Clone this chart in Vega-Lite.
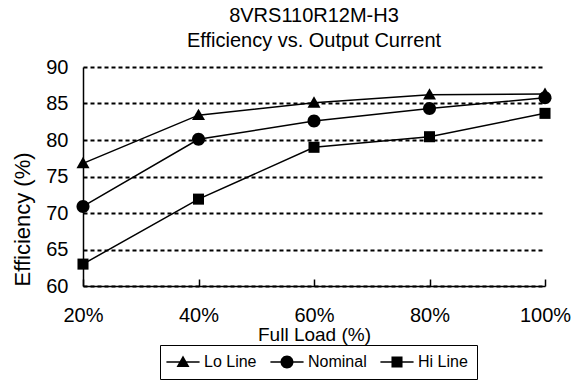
{
  "$schema": "https://vega.github.io/schema/vega-lite/v6.json",
  "width": 462,
  "height": 219,
  "autosize": "none",
  "padding": {"left": 83, "top": 67, "right": 37, "bottom": 97},
  "background": "white",
  "config": {"view": {"stroke": null}, "font": "Liberation Sans"},
  "title": {
    "text": ["8VRS110R12M-H3", "Efficiency vs. Output Current"],
    "font": "Liberation Sans",
    "fontSize": 20,
    "fontWeight": "normal",
    "color": "black",
    "anchor": "middle",
    "offset": 6,
    "lineHeight": 25
  },
  "data": {
    "values": [
      {"load": 0.2, "series": "Lo Line", "eff": 76.8},
      {"load": 0.4, "series": "Lo Line", "eff": 83.4},
      {"load": 0.6, "series": "Lo Line", "eff": 85.1},
      {"load": 0.8, "series": "Lo Line", "eff": 86.2},
      {"load": 1.0, "series": "Lo Line", "eff": 86.3},
      {"load": 0.2, "series": "Nominal", "eff": 70.9},
      {"load": 0.4, "series": "Nominal", "eff": 80.1},
      {"load": 0.6, "series": "Nominal", "eff": 82.6},
      {"load": 0.8, "series": "Nominal", "eff": 84.3},
      {"load": 1.0, "series": "Nominal", "eff": 85.8},
      {"load": 0.2, "series": "Hi Line", "eff": 63.0},
      {"load": 0.4, "series": "Hi Line", "eff": 71.9},
      {"load": 0.6, "series": "Hi Line", "eff": 79.0},
      {"load": 0.8, "series": "Hi Line", "eff": 80.45},
      {"load": 1.0, "series": "Hi Line", "eff": 83.65}
    ]
  },
  "encoding": {
    "x": {
      "field": "load",
      "type": "quantitative",
      "scale": {"domain": [0.2, 1], "nice": false, "zero": false},
      "axis": {
        "values": [0.2, 0.4, 0.6, 0.8, 1.0],
        "format": ".0%",
        "grid": false,
        "ticks": true,
        "tickSize": -7,
        "tickColor": "black",
        "tickWidth": 1.5,
        "domainColor": "black",
        "domainWidth": 1.5,
        "labelFont": "Liberation Sans",
        "labelFontSize": 20,
        "labelColor": "black",
        "labelPadding": 26,
        "labelFlush": false,
        "title": "Full Load (%)",
        "titleFont": "Liberation Sans",
        "titleFontSize": 19,
        "titleFontWeight": "normal",
        "titleColor": "black",
        "titlePadding": 0
      }
    },
    "y": {
      "field": "eff",
      "type": "quantitative",
      "scale": {"domain": [60, 90], "nice": false, "zero": false},
      "axis": {
        "values": [60, 65, 70, 75, 80, 85, 90],
        "grid": true,
        "gridColor": "black",
        "gridDash": [4, 3],
        "gridWidth": 2,
        "gridOpacity": 1,
        "ticks": false,
        "domainColor": "black",
        "domainWidth": 1.5,
        "labelFont": "Liberation Sans",
        "labelFontSize": 20,
        "labelColor": "black",
        "labelPadding": 15,
        "title": "Efficiency (%)",
        "titleFont": "Liberation Sans",
        "titleFontSize": 22,
        "titleFontWeight": "normal",
        "titleColor": "black",
        "titleAnchor": "start",
        "titlePadding": 11
      }
    }
  },
  "resolve": {"scale": {"shape": "independent"}},
  "layer": [
    {
      "mark": {"type": "line", "color": "black", "strokeWidth": 1.5},
      "encoding": {"detail": {"field": "series", "type": "nominal"}}
    },
    {
      "mark": {"type": "point", "filled": true, "color": "black", "size": 169, "opacity": 1, "strokeWidth": 0},
      "encoding": {
        "shape": {
          "field": "series",
          "type": "nominal",
          "scale": {
            "domain": ["Lo Line", "Nominal", "Hi Line"],
            "range": [
              "M0,-1L1,0.75L-1,0.75Z",
              "M1,0A1,1 0 1,1 -1,0A1,1 0 1,1 1,0Z",
              "M-0.85,-0.85H0.85V0.85H-0.85Z"
            ]
          },
          "legend": null
        }
      }
    },
    {
      "mark": {"type": "point", "filled": true, "color": "black", "size": 0, "opacity": 1, "strokeWidth": 0},
      "encoding": {
        "shape": {
          "field": "series",
          "type": "nominal",
          "scale": {
            "domain": ["Lo Line", "Nominal", "Hi Line"],
            "range": [
              "M-2.55,-0.11H2.55V0.11H-2.55ZM0,-1L1,0.75L-1,0.75Z",
              "M-2.55,-0.11H2.55V0.11H-2.55ZM1,0A1,1 0 1,1 -1,0A1,1 0 1,1 1,0Z",
              "M-2.55,-0.11H2.55V0.11H-2.55ZM-0.85,-0.85H0.85V0.85H-0.85Z"
            ]
          },
          "legend": {
            "title": null,
            "orient": "none",
            "legendX": 77,
            "legendY": 278,
            "direction": "horizontal",
            "strokeColor": "black",
            "padding": 9,
            "symbolSize": 169,
            "symbolOffset": 6,
            "labelOffset": 13,
            "columnPadding": 13,
            "labelFont": "Liberation Sans",
            "labelFontSize": 16,
            "labelColor": "black",
            "symbolFillColor": "black",
            "symbolOpacity": 1,
            "symbolStrokeWidth": 0
          }
        }
      }
    }
  ]
}
